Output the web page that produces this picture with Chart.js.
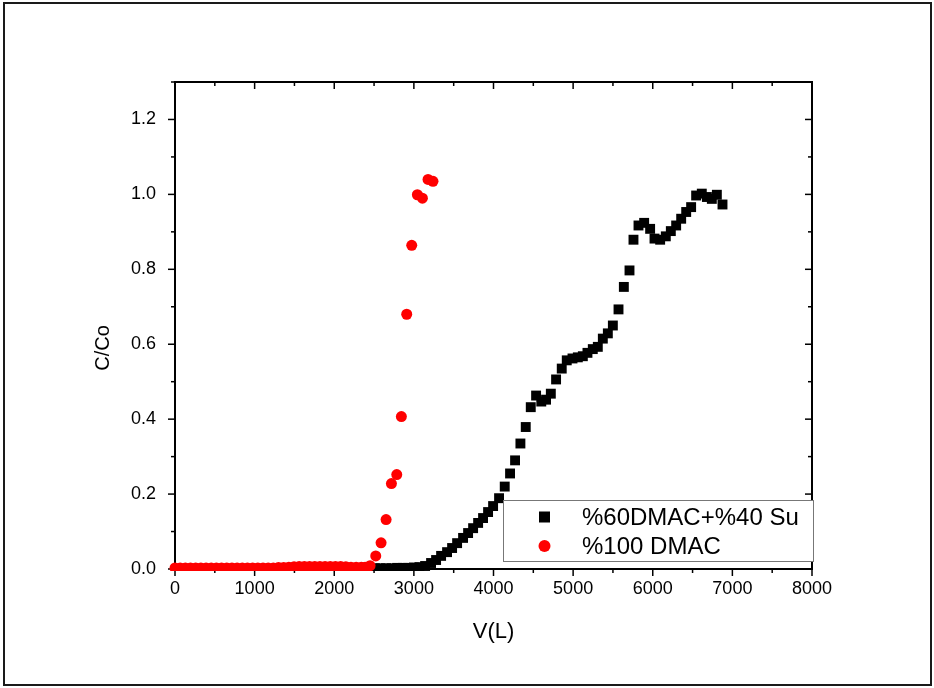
<!DOCTYPE html>
<html>
<head>
<meta charset="utf-8">
<script src="https://cdn.jsdelivr.net/npm/chart.js@4.4.0/dist/chart.umd.min.js"></script>
<style>
  body { margin: 0; background: #fff; }
  #wrap { width: 934px; height: 688px; }
</style>
</head>
<body>
<div id="wrap"><canvas id="myChart" width="934" height="688"></canvas></div>
<script>
// tick labels
const xTicks = [0, 1000, 2000, 3000, 4000, 5000, 6000, 7000, 8000];
const yTicks = [0, 0.2, 0.4, 0.6, 0.8, 1.0, 1.2];

// %60DMAC+%40 Su (black squares)
const mixV = [2510, 2580, 2650, 2720, 2790, 2860, 2930, 3000, 3070, 3141, 3216, 3279, 3342, 3417,
    3480, 3543, 3618, 3681, 3744, 3807, 3869, 3932, 3995, 4070, 4141, 4208, 4271, 4338, 4405,
    4468, 4535, 4600, 4660, 4720, 4786, 4857, 4920, 4992, 5059, 5122, 5180, 5247, 5310, 5373,
    5436, 5499, 5570, 5637, 5708, 5758, 5821, 5892, 5967, 6022, 6093, 6164, 6227, 6294, 6357,
    6420, 6482, 6545, 6616, 6680, 6742, 6805, 6876];
const mixC = [0.002, 0.002, 0.002, 0.002, 0.003, 0.003, 0.003, 0.004, 0.005, 0.008, 0.016, 0.024,
    0.035, 0.045, 0.056, 0.069, 0.083, 0.096, 0.109, 0.123, 0.136, 0.152, 0.168, 0.189, 0.22,
    0.255, 0.29, 0.335, 0.379, 0.432, 0.463, 0.447, 0.452, 0.468, 0.506, 0.535, 0.557, 0.562,
    0.565, 0.568, 0.577, 0.587, 0.593, 0.615, 0.629, 0.65, 0.693, 0.753, 0.797, 0.879, 0.917,
    0.924, 0.908, 0.882, 0.879, 0.888, 0.902, 0.917, 0.935, 0.953, 0.966, 0.997, 1.002, 0.993,
    0.988, 0.999, 0.973];

// %100 DMAC (red circles)
const dmacV = [0, 65, 130, 195, 260, 325, 390, 455, 520, 585, 650, 715, 780, 845, 910, 975, 1040,
    1105, 1170, 1235, 1300, 1365, 1430, 1495, 1560, 1625, 1690, 1755, 1820, 1885, 1950, 2015,
    2080, 2145, 2210, 2275, 2340, 2387, 2450, 2521, 2588, 2651, 2718, 2785, 2843, 2910, 2973,
    3044, 3107, 3178, 3240];
const dmacC = [0.003, 0.003, 0.003, 0.003, 0.003, 0.003, 0.003, 0.003, 0.003, 0.003, 0.003, 0.003,
    0.003, 0.003, 0.003, 0.003, 0.003, 0.003, 0.003, 0.003, 0.004, 0.004, 0.005, 0.006, 0.007,
    0.007, 0.007, 0.007, 0.007, 0.007, 0.007, 0.007, 0.007, 0.006, 0.005, 0.005, 0.005, 0.005,
    0.009, 0.035, 0.07, 0.132, 0.228, 0.252, 0.407, 0.68, 0.864, 0.999, 0.99, 1.04, 1.035];

const seriesNames = ["%60DMAC+%40 Su", "%100 DMAC"];
const seriesColors = ["#000000", "#ff0000"];

function toPoints(xs, ys) {
    return xs.map((x, i) => ({ x: x, y: ys[i] }));
}

const FONT = "'Liberation Sans', Arial, sans-serif";

const framePlugin = {
    id: "framePlugin",
    beforeDraw(chart) {
        const ctx = chart.ctx;
        ctx.save();
        ctx.fillStyle = "#fff";
        ctx.fillRect(0, 0, chart.width, chart.height);
        ctx.strokeStyle = "#1a1a1a";
        ctx.lineWidth = 2;
        ctx.strokeRect(4, 3, 927, 682);
        ctx.restore();
    },
    beforeDatasetsDraw(chart) {
        const ctx = chart.ctx;
        const xa = chart.scales.x, ya = chart.scales.y;
        const { left, right, top, bottom } = chart.chartArea;
        ctx.save();
        ctx.strokeStyle = "#000";
        ctx.lineWidth = 2;
        ctx.strokeRect(left, top, right - left, bottom - top);
        ctx.lineWidth = 1.5;
        const line = (x1, y1, x2, y2) => {
            ctx.beginPath();
            ctx.moveTo(x1, y1);
            ctx.lineTo(x2, y2);
            ctx.stroke();
        };
        // x ticks: out on bottom, in on top
        xTicks.forEach((v, i) => {
            const px = xa.getPixelForValue(v);
            line(px, bottom, px, bottom + 7);
            line(px, top, px, top + 7);
            if (i < xTicks.length - 1) {
                const pm = xa.getPixelForValue((v + xTicks[i + 1]) / 2);
                line(pm, bottom, pm, bottom + 4);
                line(pm, top, pm, top + 4);
            }
        });
        // y ticks: out on left, in on right
        const yAll = yTicks.concat([1.3]);
        yAll.forEach((v, i) => {
            const py = ya.getPixelForValue(v);
            if (i < yTicks.length) {
                line(left, py, left - 7, py);
                line(right, py, right - 7, py);
            }
            if (i < yAll.length - 1) {
                const pm = ya.getPixelForValue(v + 0.1);
                line(left, pm, left - 4, pm);
                line(right, pm, right - 4, pm);
            }
        });
        // y axis title
        ctx.fillStyle = "#000";
        ctx.font = "20px " + FONT;
        ctx.textAlign = "center";
        ctx.textBaseline = "middle";
        ctx.translate(103, 348);
        ctx.rotate(-Math.PI / 2);
        ctx.fillText("C/Co", 0, 0);
        ctx.restore();
    },
    afterDatasetsDraw(chart) {
        const ctx = chart.ctx;
        ctx.save();
        const bx = 503, by = 500, bw = 310, bh = 61;
        ctx.fillStyle = "#fff";
        ctx.fillRect(bx, by, bw, bh);
        ctx.strokeStyle = "#777";
        ctx.lineWidth = 1;
        ctx.strokeRect(bx + 0.5, by + 0.5, bw, bh);
        ctx.font = "24px " + FONT;
        ctx.textBaseline = "middle";
        ctx.textAlign = "left";
        seriesNames.forEach((name, i) => {
            const cy = by + 17 + i * 29;
            ctx.fillStyle = seriesColors[i];
            if (i === 0) {
                ctx.fillRect(539, cy - 5.5, 11, 11);
            } else {
                ctx.beginPath();
                ctx.arc(544.5, cy, 6, 0, Math.PI * 2);
                ctx.fill();
            }
            ctx.fillStyle = "#000";
            ctx.fillText(name, 582, cy + 1);
        });
        ctx.restore();
    },
};

const ctx = document.getElementById("myChart");
new Chart(ctx, {
    type: "scatter",
    data: {
        datasets: [
            {
                label: seriesNames[0],
                data: toPoints(mixV, mixC),
                pointStyle: "rect",
                pointRadius: 7,
                pointHoverRadius: 7,
                backgroundColor: seriesColors[0],
                borderWidth: 0,
                order: 2,
                clip: { left: 8, top: 8, right: 8, bottom: 2 },
            },
            {
                label: seriesNames[1],
                data: toPoints(dmacV, dmacC),
                pointStyle: "circle",
                pointRadius: 5.5,
                pointHoverRadius: 5.5,
                backgroundColor: seriesColors[1],
                borderWidth: 0,
                order: 1,
                clip: { left: 8, top: 8, right: 8, bottom: 2 },
            },
        ],
    },
    options: {
        responsive: false,
        animation: false,
        layout: { padding: { top: 82, right: 122, left: 0, bottom: 0 } },
        plugins: {
            legend: { display: false },
            tooltip: { enabled: false },
        },
        scales: {
            x: {
                type: "linear",
                min: 0,
                max: 8000,
                grid: { display: false, drawTicks: false },
                border: { display: false },
                afterBuildTicks: (scale) => {
                    scale.ticks = xTicks.map((v) => ({ value: v }));
                },
                afterFit: (scale) => {
                    scale.height = 119;
                },
                ticks: {
                    color: "#000",
                    padding: 9,
                    maxRotation: 0,
                    font: { family: FONT, size: 18 },
                    callback: (v) => String(v),
                },
                title: {
                    display: true,
                    text: "V(L)",
                    color: "#000",
                    font: { family: FONT, size: 22 },
                    padding: { top: 0, bottom: 43 },
                },
            },
            y: {
                type: "linear",
                min: 0,
                max: 1.3,
                grid: { display: false, drawTicks: false },
                border: { display: false },
                afterBuildTicks: (scale) => {
                    scale.ticks = yTicks.map((v) => ({ value: v }));
                },
                afterFit: (scale) => {
                    scale.width = 175;
                },
                ticks: {
                    color: "#000",
                    padding: 19,
                    font: { family: FONT, size: 18 },
                    callback: (v) => v.toFixed(1),
                },
            },
        },
    },
    plugins: [framePlugin],
});
</script>
</body>
</html>
